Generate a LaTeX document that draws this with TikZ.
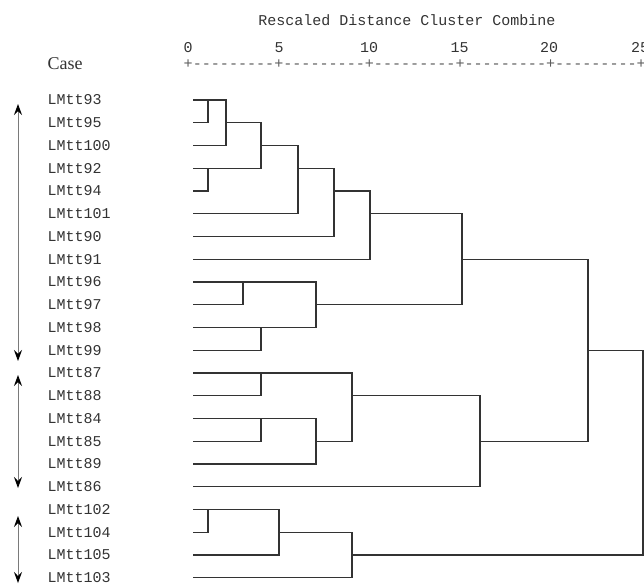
\documentclass[tikz,border=0pt]{standalone}
\usepackage{fontspec}
\setmainfont{Liberation Serif}
\newfontfamily\monofont{Liberation Mono}
\usetikzlibrary{arrows.meta}
\definecolor{ink}{HTML}{333333}
\definecolor{shaft}{HTML}{7A7A7A}
\tikzset{
  leaflabel/.style={anchor=west,inner sep=0pt,text=ink,font=\monofont\fontsize{15}{15}\selectfont},
  headtext/.style={inner sep=0pt,text=ink,font=\monofont\fontsize{15}{15}\selectfont},
  rulertext/.style={anchor=west,inner sep=0pt,text=ink!80,font=\monofont\fontsize{15.1}{15}\selectfont},
  dendro/.style={draw=ink,line width=1.3pt},
  ahead/.style={Stealth[length=11pt,width=8pt,inset=4pt,color=black]},
  grouparrow/.style={draw=shaft,line width=0.9pt,{Stealth[length=11pt,width=8pt,inset=4pt,color=black]}-{Stealth[length=11pt,width=8pt,inset=4pt,color=black]}}
}
\begin{document}
\begin{tikzpicture}[x=1pt,y=-1pt]
\useasboundingbox (0,0) rectangle (644,585);
% header
\node[headtext] (title) at (407,20) {Rescaled Distance Cluster Combine};
\node[anchor=west,inner sep=0pt,text=ink,font=\fontsize{18}{18}\selectfont] (case) at (47.5,64) {Case};
\node[headtext] (t0) at (188,48) {0};
\node[headtext] (t5) at (279,48) {5};
\node[headtext] (t10) at (369,48) {10};
\node[headtext] (t15) at (459.5,48) {15};
\node[headtext] (t20) at (549,48) {20};
\node[headtext] (t25) at (640,48) {25};
\node[rulertext] (ruler) at (183.5,64) {+---------+---------+---------+---------+---------+};
% leaf labels and leaf points
\foreach \lab [count=\i from 0] in {93,95,100,92,94,101,90,91,96,97,98,99,87,88,84,85,89,86,102,104,105,103}{
  \pgfmathsetmacro{\yy}{100+22.75*\i}
  \node[leaflabel] (n\lab) at (47.5,\yy) {LMtt\lab};
  \coordinate (L\i) at (193,\yy);
}
% merge points (x = merge distance, y = output row)
\coordinate (A) at (208,100);
\coordinate (B) at (226,122.75);
\coordinate (C) at (208,168.25);
\coordinate (D) at (261,145.5);
\coordinate (E) at (298,168.25);
\coordinate (F) at (334,191);
\coordinate (G) at (370,213.75);
\coordinate (H) at (243,282);
\coordinate (I) at (261,327.5);
\coordinate (J) at (316,304.75);
\coordinate (K) at (462,259.25);
\coordinate (Lc) at (261,373);
\coordinate (M) at (261,418.5);
\coordinate (N) at (316,441.25);
\coordinate (O) at (352,395.75);
\coordinate (P) at (480,441.25);
\coordinate (Q) at (588,350.25);
\coordinate (R) at (208,509.5);
\coordinate (S) at (279,532.25);
\coordinate (T) at (352,555);
\coordinate (U) at (643,452);
% merges: child1 -- vertical -- child2
\foreach \a/\b/\m in {L0/L1/A, A/L2/B, L3/L4/C, B/C/D, D/L5/E, E/L6/F, F/L7/G,
  L8/L9/H, L10/L11/I, H/I/J, G/J/K, L12/L13/Lc, L14/L15/M, M/L16/N, Lc/N/O,
  O/L17/P, K/P/Q, L18/L19/R, R/L20/S, S/L21/T, Q/T/U}{
  \draw[dendro] (\a) -- (\a -| \m) -- (\b -| \m) -- (\b);
}
% group arrows
\coordinate (g1a) at (18,104);
\coordinate (g1b) at (18,361);
\coordinate (g2a) at (18,375);
\coordinate (g2b) at (18,488);
\coordinate (g3a) at (18,516);
\coordinate (g3b) at (18,583);
\draw[grouparrow] (g1a) -- (g1b);
\draw[grouparrow] (g2a) -- (g2b);
\draw[grouparrow] (g3a) -- (g3b);
\end{tikzpicture}
\end{document}
